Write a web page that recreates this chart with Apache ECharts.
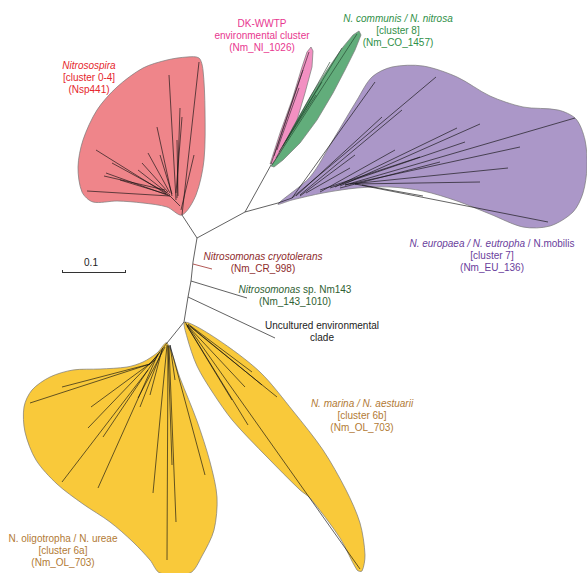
<!DOCTYPE html>
<html><head><meta charset="utf-8">
<script src="https://cdn.jsdelivr.net/npm/echarts@6/dist/echarts.min.js"></script>
<style>html,body{margin:0;padding:0;background:#fff}#c{width:587px;height:573px}</style>
</head><body><div id="c"></div>
<script>
// ---- clade outlines (tree-space coordinates) ----
const cladeNames = ['Nitrosospira','DK-WWTP','N. communis','N. europaea','N. oligotropha','N. marina'];
const cladeColors = ['#ef858a','#f290c2','#62ad7b','#ab97c8','#f9c93a','#f9c93a'];
const redOutline = [[182,215],[196,195],[204,160],[205,110],[203,70],[199,58],[187,57],[167,60],[143,68],[117,87],[97,110],[83,140],[78,167],[82,192],[93,202],[117,201],[143,203],[167,207]];
const pinkOutline = [[270,164],[280,133],[292,100],[302,67],[307,52],[311,47],[313,51],[312,67],[305,93],[297,120],[287,143],[275,164]];
const greenOutline = [[271,166],[280,153],[293,127],[310,97],[327,70],[343,47],[353,35],[359,31],[361,35],[355,50],[345,70],[333,93],[317,120],[300,143],[283,160],[274,167]];
const purpleOutline = [[278,204],[310,177],[333,140],[357,100],[372,77],[392,67],[423,66],[457,77],[490,96],[523,107],[558,110],[576,119],[585,140],[587,167],[583,193],[573,212],[550,226],[523,227],[490,214],[457,201],[423,191],[390,187],[357,188],[323,193],[292,200]];
const oligoOutline = [[167,343],[180,378],[197,421],[210,462],[217,497],[214,530],[202,556],[190,573],[160,573],[150,560],[133,542],[110,522],[83,504],[57,484],[36,460],[25,432],[24,407],[32,390],[50,377],[73,370],[100,369],[127,367],[143,362],[157,353]];
const marinaOutline = [[185,322],[217,339],[260,372],[293,411],[323,450],[346,490],[360,523],[365,555],[362,571],[357,570],[340,538],[310,498],[300,490],[267,457],[233,421],[213,393],[197,366],[187,337]];
const outlines = [redOutline,pinkOutline,greenOutline,purpleOutline,oligoOutline,marinaOutline];

// ---- branches [x1,y1,x2,y2] ----
const backbone = [[197,238,182,215],[197,238,245,212],[245,212,271,165],[245,212,278,203],[197,238,193,262],[193,262,191,281],[191,281,188,297],[188,297,184,322],[184,322,167,343],[191,281,247,298],[188,297,275,338]];
const cryoBranch = [[193,264,212,269]];
const redBranches = [[182,215,199,62],[181,210,194,155],[180,206,170,196],[170,196,87,191],[168,195,96,150],[170,196,106,173],[167,193,112,163],[165,190,104,176],[172,196,157,127],[176,200,169,75],[177,198,180,108],[178,196,177,140],[176,193,182,117],[168,192,142,163],[170,193,148,153],[170,195,138,170],[172,194,160,155],[166,194,120,180]];
const pinkBranches = [[271,164,309,52],[274,156,303,70],[277,150,299,88]];
const greenBranches = [[272,165,357,34],[276,158,330,62],[279,152,342,48],[283,146,322,82],[286,141,316,95]];
const purpleBranches = [[278,203,292,198],[292,198,375,82],[292,198,436,77],[300,195,402,110],[296,196,382,117],[306,193,350,168],[320,190,420,157],[330,188,465,142],[335,187,457,128],[340,186,480,124],[345,185,575,118],[345,185,520,147],[350,184,508,168],[355,184,480,182],[355,184,548,222],[362,185,423,196],[300,196,355,155],[320,192,395,150],[340,188,440,162]];
const oligoBranches = [[167,343,150,364],[150,364,30,403],[150,364,62,387],[155,360,91,407],[148,370,62,482],[158,354,98,488],[160,352,103,437],[158,355,88,428],[163,348,140,407],[165,347,138,398],[167,345,153,493],[168,345,167,560],[169,346,176,522],[168,346,172,465],[170,345,205,475],[170,345,175,380],[162,350,150,395]];
const marinaBranches = [[185,322,360,569],[186,324,248,425],[188,325,277,397],[187,325,245,387],[188,324,252,372],[190,326,262,385],[187,326,232,400]];
const scaleBar = [[62,272,125,272],[62,270,62,273],[125,270,125,273]];

// ---- labels ----
const labelX = [89,262,398,492,263,295,322,362,63,91];
const labelY = [77,35,30,255,262,295,331,415,550,262];
const labelTexts = [
 '{i|Nitrosospira}\n[cluster 0-4]\n(Nsp441)',
 'DK-WWTP\nenvironmental cluster\n(Nm_NI_1026)',
 '{i|N. communis / N. nitrosa}\n[cluster 8]\n(Nm_CO_1457)',
 '{i|N. europaea / N. eutropha} / N.mobilis\n[cluster 7]\n(Nm_EU_136)',
 '{i|Nitrosomonas cryotolerans}\n(Nm_CR_998)',
 '{i|Nitrosomonas} sp. Nm143\n(Nm_143_1010)',
 'Uncultured environmental\nclade',
 '{i|N. marina / N. aestuarii}\n[cluster 6b]\n(Nm_OL_703)',
 'N. oligotropha / N. ureae\n[cluster 6a]\n(Nm_OL_703)',
 '0.1'
];
const labelColors = ['#e5262d','#e8378f','#2f8f47','#6a409c','#8e2b2b','#2f5f33','#222222','#b27a35','#b27a35','#222222'];

const FONT = '"Liberation Sans", Arial, sans-serif';
const chart = echarts.init(document.getElementById('c'), null, {renderer:'svg'});
const series = [];
outlines.forEach((pts,i)=>{
  series.push({type:'custom', name:cladeNames[i], coordinateSystem:'cartesian2d', silent:true, z:1,
    data:[[0,0]],
    renderItem:(params,api)=>({type:'polygon', shape:{points:pts.map(p=>api.coord(p)), smooth:(i===1||i===2)?0:0.3},
      style:{fill:cladeColors[i], stroke:'#7a7a7a', lineWidth:0.7}})});
});
function segSeries(segs,color,width){
  return {type:'lines', coordinateSystem:'cartesian2d', silent:true, z:3,
    data:segs.map(s=>({coords:[[s[0],s[1]],[s[2],s[3]]]})),
    lineStyle:{color:color, width:width, opacity:1}, effect:{show:false}};
}
series.push(segSeries(backbone,'#3a3a3a',0.8));
series.push(segSeries(cryoBranch,'#a0302c',0.8));
series.push(segSeries(redBranches,'#111111',0.65));
series.push(segSeries(pinkBranches,'#222222',0.6));
series.push(segSeries(greenBranches,'#1d3d26',0.6));
series.push(segSeries(purpleBranches,'#111111',0.65));
series.push(segSeries(oligoBranches,'#111111',0.65));
series.push(segSeries(marinaBranches,'#111111',0.65));
series.push(segSeries(scaleBar,'#333333',1));
series.push({type:'custom', coordinateSystem:'cartesian2d', silent:true, z:5,
  data:labelX.map((x,i)=>[x,labelY[i],i]),
  renderItem:(params,api)=>{
    const i=api.value(2); const p=api.coord([api.value(0),api.value(1)]);
    return {type:'text', x:p[0], y:p[1], style:{text:labelTexts[i], fill:labelColors[i], fontSize:10, fontFamily:FONT,
      align:'center', verticalAlign:'middle', lineHeight:12,
      rich:{i:{fontStyle:'italic', fill:labelColors[i], fontSize:10, fontFamily:FONT, lineHeight:12}}}};
  }});

chart.setOption({
  animation:false,
  grid:{left:0,right:0,top:0,bottom:0},
  xAxis:{type:'value', min:0, max:587, show:false},
  yAxis:{type:'value', min:0, max:573, inverse:true, show:false},
  series:series
});
</script></body></html>
